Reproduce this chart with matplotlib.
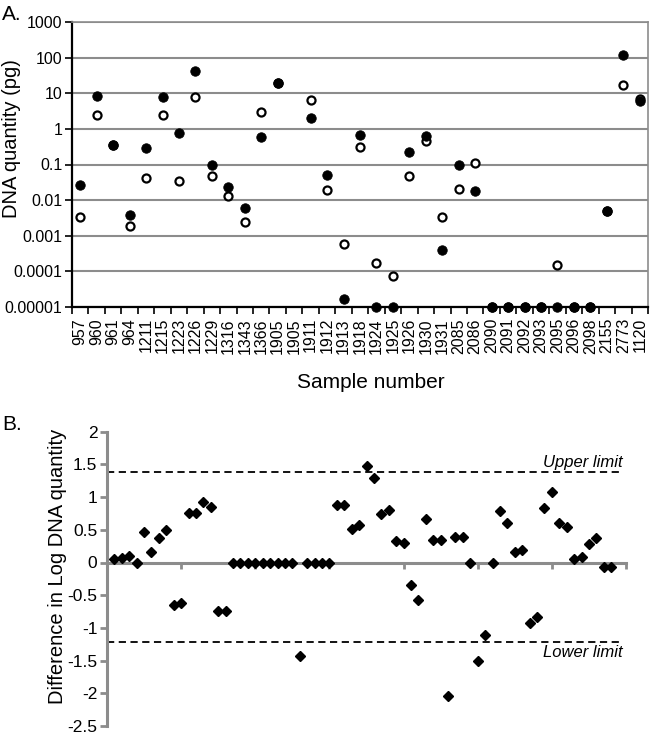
import matplotlib
matplotlib.use('Agg')
import matplotlib.pyplot as plt
import numpy as np
from matplotlib.ticker import NullLocator

plt.rcParams['font.family'] = ['Liberation Sans', 'DejaVu Sans']

# ---------------- data ----------------
samples = ['957', '960', '961', '964', '1211', '1215', '1223', '1226', '1229',
           '1316', '1343', '1366', '1905', '1905', '1911', '1912', '1913', '1918',
           '1924', '1925', '1926', '1930', '1931', '2085', '2086', '2090', '2091',
           '2092', '2093', '2095', '2096', '2098', '2155', '2773', '1120']

filled_pg = [0.027, 8.2, 0.36, 0.0038, 0.30, 7.8, 0.78, 41, 0.095,
             0.024, 0.0061, 0.60, 19, np.nan, 2.0, 0.051, 0.0000166, 0.67,
             0.00001, 0.00001, 0.22, 0.65, 0.00041, 0.10, 0.018, 0.00001, 0.00001,
             0.00001, 0.00001, 0.00001, 0.00001, 0.00001, 0.0048, 119, 5.9]

open_pg = [0.0033, 2.5, 0.36, 0.0019, 0.043, 2.4, 0.035, 7.7, 0.049,
           0.0127, 0.0024, 2.9, 19, np.nan, 6.6, 0.019, 0.0006, 0.31,
           0.000176, 0.000074, 0.049, 0.45, 0.0034, 0.020, 0.113, 0.00001, 0.00001,
           0.00001, 0.00001, 0.000155, 0.00001, 0.00001, 0.0048, 17.3, 6.7]

a_yticks = [1e-5, 1e-4, 1e-3, 1e-2, 1e-1, 1, 10, 100, 1000]
a_yticklabels = ['0.00001', '0.0001', '0.001', '0.01', '0.1', '1', '10', '100', '1000']

diff_log = [0.05, 0.07, 0.10, 0.00, 0.46, 0.16, 0.38, 0.50, -0.65, -0.62,
            0.75, 0.75, 0.92, 0.85, -0.74, -0.74,
            0.0, 0.0, 0.0, 0.0, 0.0, 0.0, 0.0, 0.0, 0.0,
            -1.43, 0.0, 0.0, 0.0, 0.0,
            0.88, 0.88, 0.51, 0.58, 1.48, 1.29, 0.74, 0.81, 0.33, 0.30,
            -0.34, -0.58, 0.66, 0.35, 0.35, -2.04, 0.39, 0.39, 0.00, -1.50,
            -1.11, 0.00, 0.79, 0.61, 0.16, 0.19, -0.93, -0.83, 0.83, 1.08,
            0.61, 0.54, 0.05, 0.08, 0.28, 0.37, -0.07, -0.07]

upper_limit = 1.39
lower_limit = -1.21
b_yticks = [-2.5, -2, -1.5, -1, -0.5, 0, 0.5, 1, 1.5, 2]
b_xticks = [0, 10, 20, 30, 40, 50, 60, 70]

W, H = 650, 736
fig = plt.figure(figsize=(W / 100, H / 100), dpi=100)

grid_gray = '#8c8c8c'

# ---------------- panel A ----------------
axA = fig.add_axes([72 / W, 1 - 307 / H, 576 / W, 285 / H])
xa = np.arange(len(samples))
axA.set_yscale('log')
axA.set_ylim(1e-5, 1e3)
axA.set_xlim(-0.5, len(samples) - 0.5)
axA.plot(xa, open_pg, 'o', ls='none', ms=5.8, mfc='white', mec='black', mew=1.6,
         clip_on=False, zorder=3)
axA.plot(xa, filled_pg, 'o', ls='none', ms=6.8, mfc='black', mec='black', mew=0.6,
         clip_on=False, zorder=4)
axA.set_yticks(a_yticks)
axA.set_yticklabels(a_yticklabels, fontsize=11.5)
axA.yaxis.set_minor_locator(NullLocator())
axA.set_xticks(xa)
axA.set_xticklabels(samples, rotation=90, fontsize=11.5)
axA.set_xticks(np.arange(-0.5, len(samples)), minor=True)
axA.tick_params(axis='x', which='major', length=0, pad=8)
axA.tick_params(axis='x', which='minor', length=5, width=1.2, color='black', direction='out')
axA.tick_params(axis='y', which='major', length=5, width=1.2, pad=2, direction='out')
axA.grid(axis='y', color=grid_gray, lw=1.5)
axA.set_axisbelow(True)
for s in ['left', 'bottom']:
    axA.spines[s].set_color('black')
    axA.spines[s].set_linewidth(1.6)
for s in ['top', 'right']:
    axA.spines[s].set_color(grid_gray)
    axA.spines[s].set_linewidth(1.2)

fig.text(2 / W, 1 - 20 / H, 'A.', fontsize=15, ha='left', va='baseline')
fig.text(12 / W, 1 - 139 / H, 'DNA quantity (pg)', fontsize=14.5, rotation=90,
         ha='center', va='center')
fig.text(371 / W, 1 - 383 / H, 'Sample number', fontsize=15, ha='center', va='center')

# ---------------- panel B ----------------
axB = fig.add_axes([107 / W, 1 - 726 / H, 519 / W, (726 - 431.7) / H])
xb = np.arange(1, len(diff_log) + 1)
axB.set_xlim(0, 70)
axB.set_ylim(-2.5, 2)
axB.spines['top'].set_visible(False)
axB.spines['right'].set_visible(False)
axB.spines['left'].set_color(grid_gray)
axB.spines['left'].set_linewidth(2.2)
axB.spines['bottom'].set_position(('data', 0))
axB.spines['bottom'].set_color(grid_gray)
axB.spines['bottom'].set_linewidth(2.2)
axB.set_xticks(b_xticks)
axB.set_xticklabels([])
axB.tick_params(axis='x', length=4, width=2, color=grid_gray, direction='out')
axB.set_yticks(b_yticks)
axB.set_yticklabels(['{:g}'.format(v) for v in b_yticks], fontsize=12.5)
axB.tick_params(axis='y', length=5, width=2, color=grid_gray, direction='out', pad=2)

axB.hlines([upper_limit, lower_limit], 0, 69.6, colors='black',
           linestyles=(0, (4, 2.5)), lw=1.3, zorder=2)
axB.text(69.6, upper_limit + 0.03, 'Upper limit', ha='right', va='bottom',
         style='italic', fontsize=12)
axB.text(69.6, lower_limit - 0.05, 'Lower limit', ha='right', va='top',
         style='italic', fontsize=12)
axB.plot(xb, diff_log, 'D', ls='none', ms=5.0, color='black', clip_on=False, zorder=3)

fig.text(2 / W, 1 - 430 / H, 'B.', fontsize=15, ha='left', va='baseline')
fig.text(58 / W, 1 - 566.5 / H, 'Difference in Log DNA quantity', fontsize=14.5,
         rotation=90, ha='center', va='center')

fig.savefig('out.png', dpi=100)
